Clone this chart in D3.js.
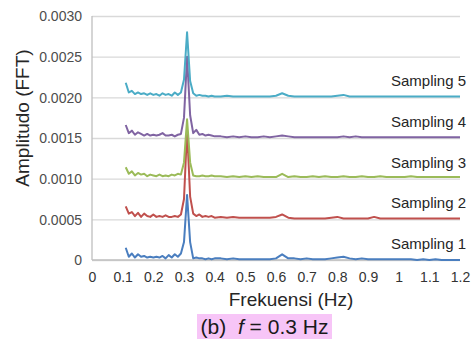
<!DOCTYPE html>
<html><head><meta charset="utf-8">
<script src="https://cdn.jsdelivr.net/npm/d3@7"></script>
<style>body{margin:0;background:#fff}svg{display:block}text{font-family:"Liberation Sans",Arial,sans-serif}</style>
</head><body><svg id="c" width="475" height="343"></svg>
<script>
const freqs = [0.11,0.12,0.13,0.14,0.15,0.16,0.17,0.18,0.19,0.20,0.21,0.22,0.23,0.24,0.25,0.26,0.27,0.28,0.29,0.30,0.31,0.32,0.33,0.34,0.35,0.36,0.37,0.38,0.39,0.40,
 0.42,0.44,0.46,0.48,0.50,0.52,0.54,0.56,0.58,0.60,0.62,0.64,0.66,0.68,0.70,0.72,0.74,0.76,0.78,0.80,0.82,0.84,0.86,0.88,0.90,0.92,0.94,0.96,0.98,1.00,1.02,1.04,1.06,1.08,1.10,1.12,1.14,1.16,1.18,1.20];
const seriesNames = ["Sampling 1","Sampling 2","Sampling 3","Sampling 4","Sampling 5"];
const seriesOffsets = [0, 0.0005, 0.0010, 0.0015, 0.0020];
const sampling1 = [0.00015,0.00004,0.00008,0.00003,0.00007,0.00004,0.00005,0.00003,0.00004,0.00003,0.00004,0.00003,0.00005,0.00002,0.00006,0.00003,0.00007,0.00004,0.00008,0.00022,0.00080,0.00022,0.00002,0.00003,0.00002,0.00002,0.00001,0.00002,0.00001,0.00002,
 0.00002,0.00001,0.00002,0.00001,0.00001,0.00001,0.00001,0.00001,0.00001,0.00002,0.00007,0.00002,0.00002,0.00001,0.00002,0.00001,0.00001,0.00001,0.00002,0.00003,0.00004,0.00002,0.00001,0.00002,0.00001,0.00001,0.00001,0.00001,0.00001,0.00001,0.00001,0.00001,0.00000,0.00001,0.00000,0.00001,0.00000,0.00000,0.00000,0.00000];
const sampling2 = [0.00016,0.00007,0.00009,0.00004,0.00008,0.00003,0.00007,0.00004,0.00003,0.00006,0.00003,0.00004,0.00003,0.00005,0.00003,0.00003,0.00004,0.00003,0.00006,0.00025,0.00110,0.00028,0.00007,0.00004,0.00006,0.00003,0.00004,0.00003,0.00004,0.00002,
 0.00003,0.00002,0.00003,0.00002,0.00002,0.00002,0.00002,0.00002,0.00002,0.00003,0.00006,0.00002,0.00001,0.00001,0.00001,0.00001,0.00001,0.00001,0.00002,0.00003,0.00001,0.00001,0.00001,0.00001,0.00001,0.00003,0.00001,0.00001,0.00001,0.00001,0.00001,0.00001,0.00001,0.00001,0.00001,0.00001,0.00001,0.00001,0.00001,0.00001];
const sampling3 = [0.00014,0.00006,0.00009,0.00004,0.00007,0.00005,0.00006,0.00003,0.00005,0.00004,0.00003,0.00005,0.00003,0.00004,0.00003,0.00005,0.00004,0.00006,0.00005,0.00020,0.00073,0.00020,0.00004,0.00003,0.00003,0.00004,0.00003,0.00003,0.00004,0.00003,
 0.00003,0.00002,0.00003,0.00002,0.00003,0.00002,0.00003,0.00002,0.00002,0.00002,0.00006,0.00002,0.00003,0.00002,0.00002,0.00003,0.00002,0.00003,0.00002,0.00002,0.00003,0.00002,0.00002,0.00003,0.00002,0.00002,0.00003,0.00002,0.00002,0.00002,0.00002,0.00003,0.00002,0.00002,0.00002,0.00002,0.00002,0.00002,0.00002,0.00002];
const sampling4 = [0.00016,0.00006,0.00009,0.00004,0.00007,0.00005,0.00003,0.00005,0.00003,0.00004,0.00003,0.00004,0.00006,0.00003,0.00003,0.00004,0.00002,0.00004,0.00005,0.00025,0.00100,0.00028,0.00006,0.00010,0.00004,0.00005,0.00003,0.00004,0.00003,0.00002,
 0.00002,0.00001,0.00002,0.00001,0.00002,0.00001,0.00001,0.00002,0.00001,0.00002,0.00003,0.00002,0.00001,0.00001,0.00001,0.00001,0.00001,0.00001,0.00001,0.00001,0.00002,0.00001,0.00002,0.00001,0.00001,0.00001,0.00001,0.00001,0.00001,0.00001,0.00001,0.00001,0.00001,0.00001,0.00001,0.00001,0.00001,0.00001,0.00001,0.00001];
const sampling5 = [0.00018,0.00006,0.00008,0.00004,0.00006,0.00004,0.00005,0.00003,0.00005,0.00003,0.00004,0.00002,0.00005,0.00003,0.00004,0.00002,0.00006,0.00003,0.00006,0.00022,0.00080,0.00020,0.00005,0.00002,0.00003,0.00002,0.00002,0.00001,0.00002,0.00001,
 0.00001,0.00002,0.00001,0.00001,0.00001,0.00001,0.00001,0.00001,0.00001,0.00002,0.00005,0.00002,0.00001,0.00001,0.00001,0.00001,0.00001,0.00001,0.00001,0.00002,0.00003,0.00001,0.00001,0.00001,0.00001,0.00001,0.00001,0.00001,0.00001,0.00001,0.00001,0.00001,0.00001,0.00001,0.00001,0.00001,0.00001,0.00001,0.00001,0.00001];
const seriesValues = [sampling1, sampling2, sampling3, sampling4, sampling5];
const seriesColors = ["#4a7ebf","#c0504d","#9bbb59","#8064a2","#4bacc6"];
const yTicks = [0,0.0005,0.0010,0.0015,0.0020,0.0025,0.0030];
const yTickLabels = ["0","0.0005","0.0010","0.0015","0.0020","0.0025","0.0030"];
const xTicks = [0,0.1,0.2,0.3,0.4,0.5,0.6,0.7,0.8,0.9,1,1.1,1.2];
const xTickLabels = ["0","0.1","0.2","0.3","0.4","0.5","0.6","0.7","0.8","0.9","1","1.1","1.2"];

const svg = d3.select("#c");
const L = 92, R = 460, T = 16, B = 260;
const x = d3.scaleLinear().domain([0,1.2]).range([L,R]);
const y = d3.scaleLinear().domain([0,0.003]).range([B,T]);

// gridlines
const grid = svg.append("g").attr("transform",`translate(${L},0)`)
  .call(d3.axisLeft(y).tickValues(yTicks).tickSize(-(R-L)).tickFormat(""));
grid.select(".domain").remove();
grid.selectAll("line").attr("stroke","#d9d9d9").attr("stroke-width",1.3);

// axis lines
svg.append("line").attr("x1",L).attr("x2",L).attr("y1",T).attr("y2",B).attr("stroke","#bfbfbf").attr("stroke-width",1.3);
svg.append("line").attr("x1",L).attr("x2",R).attr("y1",B).attr("y2",B).attr("stroke","#bfbfbf").attr("stroke-width",1.3);

// y axis labels
const ya = svg.append("g").attr("transform",`translate(${L-10},0)`)
  .call(d3.axisLeft(y).tickValues(yTicks).tickSize(0).tickPadding(0).tickFormat((d,i)=>yTickLabels[i]));
ya.select(".domain").remove();
ya.selectAll("text").attr("font-size",14).attr("fill","#4d4d4d").attr("font-family","Liberation Sans, Arial, sans-serif").attr("dy","0.35em");

// x axis labels
const xa = svg.append("g").attr("transform",`translate(0,${B+12})`)
  .call(d3.axisBottom(x).tickValues(xTicks).tickSize(0).tickPadding(0).tickFormat((d,i)=>xTickLabels[i]));
xa.select(".domain").remove();
xa.selectAll("text").attr("font-size",14).attr("fill","#333333").attr("font-family","Liberation Sans, Arial, sans-serif");

// series
const line = d3.line().x(d=>x(d[0])).y(d=>y(d[1]));
seriesValues.forEach((vals,i)=>{
  const pts = freqs.map((f,j)=>[f, vals[j] + seriesOffsets[i]]);
  svg.append("path").attr("d",line(pts)).attr("fill","none")
    .attr("stroke",seriesColors[i]).attr("stroke-width",2).attr("stroke-linejoin","round");
});

// series labels
seriesNames.forEach((n,i)=>{
  svg.append("text").attr("x",466).attr("y",y(seriesOffsets[i])-11)
    .attr("text-anchor","end").attr("font-size",15).attr("fill","#262626").text(n);
});

// axis titles
svg.append("text").attr("x",291).attr("y",306).attr("text-anchor","middle")
  .attr("font-size",19).attr("fill","#262626").text("Frekuensi (Hz)");
svg.append("text").attr("transform","translate(29,118) rotate(-90)").attr("text-anchor","middle")
  .attr("font-size",19).attr("fill","#262626").text("Amplitudo (FFT)");

// caption
svg.append("rect").attr("x",197).attr("y",314).attr("width",135).attr("height",25).attr("fill","#f7c5f7");
const cap = svg.append("text").attr("x",264.5).attr("y",334).attr("text-anchor","middle").attr("font-size",21).attr("fill","#1a1a1a");
cap.append("tspan").text("(b)\u00a0\u00a0");
cap.append("tspan").attr("font-style","italic").text("f");
cap.append("tspan").text(" = 0.3 Hz");
</script></body></html>
